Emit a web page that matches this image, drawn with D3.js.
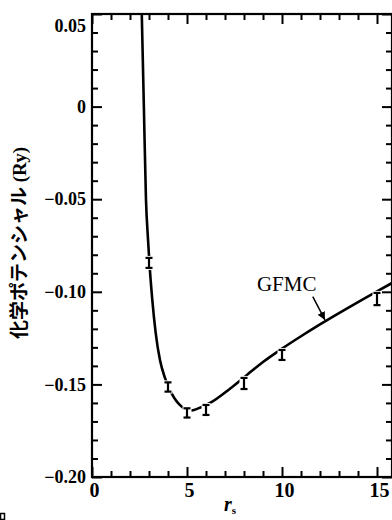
<!DOCTYPE html>
<html><head><meta charset="utf-8">
<script src="https://cdn.jsdelivr.net/npm/d3@7"></script>
<style>
html,body{margin:0;padding:0;background:#fff;}
svg{display:block;}
</style></head>
<body>
<script>
// ---- data ----
const curveRs = [2.62, 2.73, 2.84, 2.95, 3.02, 3.17, 3.35, 3.58, 3.84, 4.19, 4.72, 5.16, 5.77, 6.21, 7.26, 8.14, 9.0, 10.0, 11.0, 12.0, 13.0, 14.0, 15.0, 15.8];
const curveMu = [0.05, 0.0, -0.05, -0.072, -0.084, -0.104, -0.122, -0.137, -0.1465, -0.1548, -0.162, -0.1642, -0.1622, -0.1600, -0.1523, -0.1450, -0.1379, -0.1307, -0.1240, -0.1176, -0.1115, -0.1056, -0.0998, -0.0952];
const barRs = [3, 4, 5, 6, 8, 10, 15];
const barMu = [-0.0844, -0.1514, -0.1654, -0.1638, -0.1495, -0.1341, -0.1039];
const barErr = [0.0027, 0.0025, 0.0025, 0.0027, 0.003, 0.0027, 0.0033];
const xTickValues = [0, 5, 10, 15];
const xTickLabels = ["0", "5", "10", "15"];
const yTickValues = [0.05, 0, -0.05, -0.10, -0.15, -0.20];
const yTickLabels = ["0.05", "0", "\u22120.05", "\u22120.10", "\u22120.15", "\u22120.20"];
const yTitle = "化学ポテンシャル";
const yUnit = "(Ry)";
const seriesLabel = "GFMC";

// ---- layout ----
const W = 392, H = 520;
const L = 92, T = 14, R = 392, B = 477;
const x = d3.scaleLinear().domain([0, 15.8]).range([L, L + 15.8 * 19]);
const y = d3.scaleLinear().domain([-0.20, 0.05]).range([B, T]);
const serif = "'Liberation Serif','Times New Roman',serif";

const svg = d3.select("body").append("svg").attr("width", W).attr("height", H);
svg.append("rect").attr("width", W).attr("height", H).attr("fill", "#fff");

const minorX = d3.range(0, 16, 1).filter(v => v % 5 !== 0);
const minorY = d3.range(-20, 6, 1).map(v => v / 100).filter(v => Math.round(v * 100) % 5 !== 0);

function styleAxis(g) {
  g.select(".domain").remove();
  g.selectAll(".tick line").attr("stroke", "#000").attr("stroke-width", 2);
}

// left axis (inward ticks)
svg.append("g").attr("transform", `translate(${L},0)`)
  .call(d3.axisLeft(y).tickValues(minorY).tickSize(-6).tickFormat("")).call(styleAxis);
const yl = svg.append("g").attr("transform", `translate(${L},0)`)
  .call(d3.axisLeft(y).tickValues(yTickValues).tickSize(-10).tickPadding(6)
    .tickFormat((d, i) => yTickLabels[i])).call(styleAxis);
yl.selectAll("text").attr("font-family", serif).attr("font-weight", "bold")
  .attr("font-size", 18).attr("fill", "#000")
  .attr("dy", (d, i) => i === 0 ? "0.95em" : "0.32em");

// right axis (inward)
svg.append("g").attr("transform", `translate(${R},0)`)
  .call(d3.axisRight(y).tickValues(minorY).tickSize(-6).tickFormat("")).call(styleAxis);
svg.append("g").attr("transform", `translate(${R},0)`)
  .call(d3.axisRight(y).tickValues(yTickValues).tickSize(-10).tickFormat("")).call(styleAxis);

// bottom axis
svg.append("g").attr("transform", `translate(0,${B})`)
  .call(d3.axisBottom(x).tickValues(minorX).tickSize(-6).tickFormat("")).call(styleAxis);
const xb = svg.append("g").attr("transform", `translate(0,${B})`)
  .call(d3.axisBottom(x).tickValues(xTickValues).tickSize(-10).tickPadding(6)
    .tickFormat((d, i) => xTickLabels[i])).call(styleAxis);
xb.selectAll("text").attr("font-family", serif).attr("font-weight", "bold")
  .attr("font-size", 20).attr("fill", "#000").attr("dx", 2).attr("dy", "0.72em");

// top axis
svg.append("g").attr("transform", `translate(0,${T})`)
  .call(d3.axisTop(x).tickValues(minorX).tickSize(-6).tickFormat("")).call(styleAxis);
svg.append("g").attr("transform", `translate(0,${T})`)
  .call(d3.axisTop(x).tickValues(xTickValues).tickSize(-10).tickFormat("")).call(styleAxis);

// frame
svg.append("rect").attr("x", L).attr("y", T).attr("width", R - L).attr("height", B - T)
  .attr("fill", "none").attr("stroke", "#000").attr("stroke-width", 2.2);

// clip
svg.append("clipPath").attr("id", "clip").append("rect")
  .attr("x", L).attr("y", T).attr("width", R - L).attr("height", B - T);

// curve
const pts = curveRs.map((r, i) => [r, curveMu[i]]);
const line = d3.line().x(d => x(d[0])).y(d => y(d[1])).curve(d3.curveMonotoneX);
svg.append("path").attr("clip-path", "url(#clip)").attr("d", line(pts))
  .attr("fill", "none").attr("stroke", "#000").attr("stroke-width", 2.6);

// error bars with white gap behind
const bars = svg.append("g");
barRs.forEach((r, i) => {
  const cx = x(r), y1 = y(barMu[i] + barErr[i]), y2 = y(barMu[i] - barErr[i]);
  bars.append("rect").attr("x", cx - 4.5).attr("y", y1 - 2).attr("width", 9).attr("height", y2 - y1 + 4).attr("fill", "#fff");
  bars.append("line").attr("x1", cx).attr("x2", cx).attr("y1", y1).attr("y2", y2).attr("stroke", "#000").attr("stroke-width", 2.2);
  [y1, y2].forEach(yy => bars.append("line").attr("x1", cx - 3.5).attr("x2", cx + 3.5)
    .attr("y1", yy).attr("y2", yy).attr("stroke", "#000").attr("stroke-width", 2.2));
});

// GFMC label and arrow
svg.append("text").attr("x", x(8.68)).attr("y", y(-0.0996)).attr("font-family", serif)
  .attr("font-size", 21).attr("fill", "#000").text(seriesLabel);
svg.append("defs").append("marker").attr("id", "ah").attr("viewBox", "0 0 10 10")
  .attr("refX", 10).attr("refY", 5).attr("markerWidth", 8).attr("markerHeight", 8)
  .attr("markerUnits", "userSpaceOnUse").attr("orient", "auto")
  .append("path").attr("d", "M0,0 L10,5 L0,10 Z").attr("fill", "#000");
svg.append("line").attr("x1", x(11.62)).attr("y1", y(-0.1026)).attr("x2", x(12.26)).attr("y2", y(-0.1152))
  .attr("stroke", "#000").attr("stroke-width", 1.5).attr("marker-end", "url(#ah)");

// axis titles
const xt = svg.append("text").attr("x", 230).attr("y", 511).attr("text-anchor", "middle")
  .attr("font-family", serif).attr("fill", "#000");
xt.append("tspan").attr("font-style", "italic").attr("font-weight", "bold").attr("font-size", 20).text("r");
xt.append("tspan").attr("font-weight", "bold").attr("font-size", 11).attr("dy", 3).text("s");

const yt = svg.append("text").attr("transform", "translate(26,243) rotate(-90)")
  .attr("text-anchor", "middle").attr("fill", "#000");
yt.append("tspan").attr("font-family", "'Noto Sans CJK JP',sans-serif").attr("font-weight", "bold")
  .attr("font-size", 19).text(yTitle);
yt.append("tspan").attr("font-family", serif).attr("font-weight", "bold").attr("font-size", 19).text(" " + yUnit);

// scan artifact at bottom-left
svg.append("rect").attr("x", 0.5).attr("y", 513.5).attr("width", 4).attr("height", 6)
  .attr("fill", "none").attr("stroke", "#000").attr("stroke-width", 1.5);
</script>
</body></html>
